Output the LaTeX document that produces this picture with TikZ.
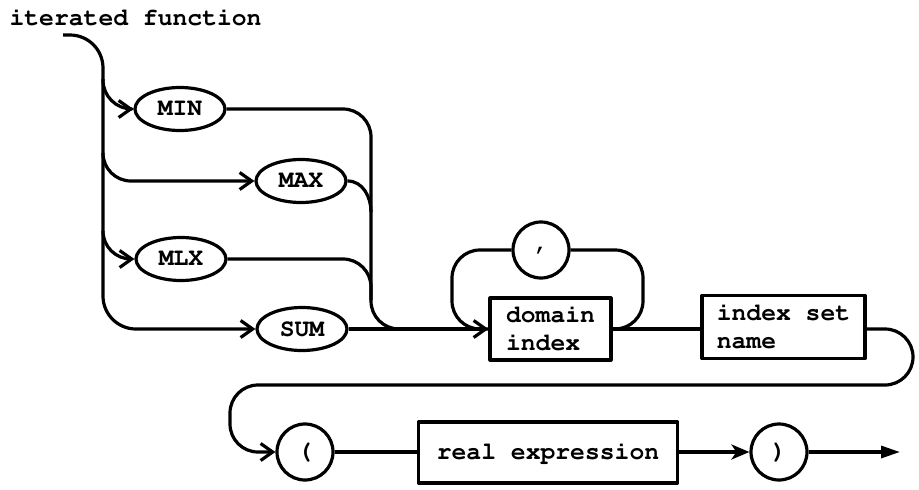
\documentclass[tikz,border=0pt]{standalone}
\usepackage[T1,TU]{fontenc}
\usetikzlibrary{shapes.geometric,arrows.meta}

% Courier-style typewriter face used for every label
\newcommand\courfont{\fontencoding{T1}\fontfamily{pcr}\fontseries{b}\fontshape{n}\fontsize{24.7}{28}\selectfont}

\tikzset{
  term/.style={draw, ellipse, minimum width=90pt, minimum height=43pt, inner sep=0pt, font=\courfont},
  lit/.style={draw, circle, minimum size=56pt, inner sep=0pt, font=\courfont},
  nonterm/.style={draw, rectangle, align=left, inner sep=0pt, font=\courfont},
  barb/.style={-{Straight Barb[length=12pt,width=17pt]}},
  wedge/.style={-{Stealth[length=18pt,width=15pt,inset=5pt]}},
  tip/.style={-{Triangle[length=19pt,width=12pt]}}
}

\begin{document}
\begin{tikzpicture}[x=1pt, y=-1pt, line width=3.2pt, line join=round]
  \fill[white] (0,0) rectangle (919,490);
  \useasboundingbox (0,0) rectangle (919,490);

  % heading and entry point
  \node[anchor=base west, inner sep=0pt, font=\courfont] (title) at (8,25) {iterated function};
  \coordinate (start) at (63,35);

  % alternative keywords
  \node[term] (min) at (180,109) {MIN};
  \node[term] (max) at (301,181) {MAX};
  \node[term] (mlx) at (181,259) {MLX};
  \node[term] (sum) at (302,329) {SUM};

  % domain index list with comma loop
  \node[lit] (comma) at (541,250) {,};
  \node[nonterm, minimum width=121pt, minimum height=62pt] (dom) at (550.5,329) {domain\\index};
  \node[nonterm, minimum width=163pt, minimum height=63pt] (idx) at (783.5,327) {index set\\name};

  % bracketed body
  \node[lit] (lp) at (305,452) {(};
  \node[nonterm, minimum width=259pt, minimum height=61pt] (real) at (548,452.5) {real expression};
  \node[lit] (rp) at (779,452) {)};
  \coordinate (end) at (900,452);

  % branch points on the main trunk
  \coordinate (tmin) at (103,79);
  \coordinate (tmax) at (103,153);
  \coordinate (tmlx) at (103,231);
  \coordinate (cmax) at (371,212);
  \coordinate (cmlx) at (371,300);
  \coordinate (merge) at (430,329);

  % trunk from the entry down to SUM
  \draw[barb, rounded corners=33pt] (start) -- (103,35) -- (103,329) -- (sum.west);
  \draw[barb, rounded corners=29pt] (tmin) -- (tmin |- min.west) -- (min.west);
  \draw[barb, rounded corners=28pt] (tmax) -- (tmax |- max.west) -- (max.west);
  \draw[barb, rounded corners=28pt] (tmlx) -- (tmlx |- mlx.west) -- (mlx.west);

  % collector joining MIN, MAX and MLX
  \draw[rounded corners=28pt] (min.east) -- (371,109) -- (371,329) -- (merge);
  \draw (max.east) to[out=0, in=90] (cmax);
  \draw[rounded corners=28pt] (mlx.east) -- (371,259) -- (cmlx);

  % main line through the domain index
  \draw[barb] (sum.east) -- (dom.west);
  \draw[rounded corners=28pt] (dom.east) -- (643,329) -- (643,250) -- (comma.east);
  \draw[rounded corners=28pt] (comma.west) -- (452,250) -- (452,329) -- (dom.west);
  \draw (dom.east) -- (idx.west |- dom.east);

  % turn back to the second row
  \draw[barb, rounded corners=28pt] (idx.east |- dom.east) -- (913,329) -- (913,385)
        -- (230,385) -- (230,452) -- (lp.west);
  \draw (lp.east) -- (lp.east -| real.west);
  \draw[wedge] (real.east |- rp.west) -- (rp.west);
  \draw[tip] (rp.east) -- (end);
\end{tikzpicture}
\end{document}
